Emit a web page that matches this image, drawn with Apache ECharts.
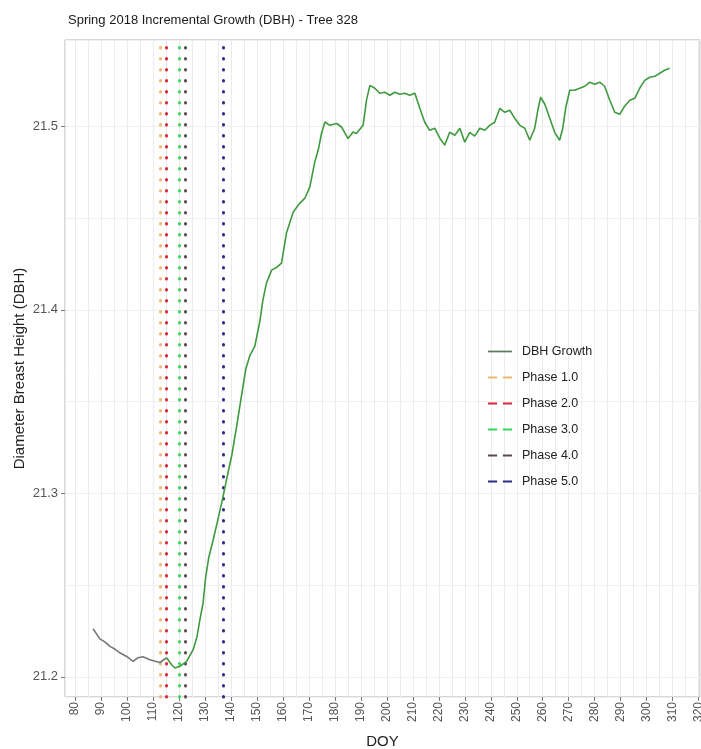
<!DOCTYPE html>
<html>
<head>
<meta charset="utf-8">
<script src="https://cdn.jsdelivr.net/npm/echarts@6/dist/echarts.min.js"></script>
<style>
html,body{margin:0;padding:0;background:#fff;}
#chart{width:701px;height:749px;}
</style>
</head>
<body>
<div id="chart"></div>
<script>
// ---- data ----
const doy = [87.0, 89.6, 91.5, 93.5, 95.5, 97.3, 99.9, 102.4, 104.3, 106.2, 108.8, 112.7, 115.3, 117.2, 118.5, 120.4, 123.0, 125.5, 127.0, 128.1, 129.3, 130.3, 131.5, 133.1, 135.0, 136.9, 138.5, 140.4, 142.3, 144.2, 145.8, 147.3, 149.2, 151.2, 152.3, 153.7, 155.7, 157.5, 159.5, 161.4, 164.0, 166.5, 168.5, 170.4, 172.3, 173.6, 174.9, 176.2, 178.1, 180.7, 182.6, 185.1, 187.0, 188.3, 190.9, 192.2, 193.5, 195.4, 197.3, 199.2, 201.2, 203.1, 205.0, 206.9, 208.8, 210.8, 212.7, 214.6, 216.5, 218.5, 220.4, 222.3, 224.2, 226.2, 228.1, 230.0, 231.9, 233.8, 235.8, 237.7, 239.6, 241.5, 243.5, 245.4, 247.3, 249.2, 251.2, 253.1, 255.0, 256.9, 258.1, 259.2, 260.8, 262.7, 264.6, 266.5, 267.7, 268.8, 270.4, 272.3, 274.2, 276.2, 278.1, 280.0, 281.9, 283.8, 285.8, 287.7, 289.6, 291.5, 293.5, 295.4, 297.3, 299.2, 301.2, 303.1, 305.0, 306.9, 308.8];
const dbh = [21.2262, 21.2207, 21.2190, 21.2166, 21.2150, 21.2131, 21.2111, 21.2084, 21.2104, 21.2109, 21.2093, 21.2078, 21.2104, 21.2066, 21.2048, 21.2057, 21.2084, 21.2148, 21.2220, 21.2311, 21.2400, 21.2540, 21.2650, 21.2740, 21.2855, 21.2975, 21.3084, 21.3210, 21.3370, 21.3540, 21.3680, 21.3750, 21.3800, 21.3940, 21.4050, 21.4145, 21.4216, 21.4230, 21.4254, 21.4418, 21.4533, 21.4580, 21.4608, 21.4670, 21.4806, 21.4869, 21.4962, 21.5023, 21.5005, 21.5015, 21.4996, 21.4933, 21.4969, 21.4960, 21.5005, 21.5142, 21.5223, 21.5207, 21.5180, 21.5185, 21.5169, 21.5185, 21.5174, 21.5180, 21.5169, 21.5180, 21.5098, 21.5022, 21.4978, 21.4989, 21.4935, 21.4897, 21.4967, 21.4951, 21.4989, 21.4913, 21.4967, 21.4946, 21.4989, 21.4978, 21.5005, 21.5022, 21.5098, 21.5076, 21.5087, 21.5044, 21.5005, 21.4989, 21.4924, 21.4989, 21.5087, 21.5158, 21.5120, 21.5044, 21.4967, 21.4924, 21.4989, 21.5098, 21.5196, 21.5196, 21.5207, 21.5218, 21.5240, 21.5229, 21.5240, 21.5218, 21.5142, 21.5076, 21.5065, 21.5109, 21.5142, 21.5152, 21.5207, 21.5250, 21.5267, 21.5272, 21.5289, 21.5305, 21.5316];
const phaseNames = ['Phase 1.0', 'Phase 2.0', 'Phase 3.0', 'Phase 4.0', 'Phase 5.0'];
const phaseDoy = [113, 115, 120, 122.5, 137];
const phaseColors = ['#f0b96e', '#d8283c', '#38d65a', '#5b4b4b', '#2b2b8c'];
const seriesName = 'DBH Growth';
const titleText = 'Spring 2018 Incremental Growth (DBH) - Tree 328';
const xName = 'DOY';
const yName = 'Diameter Breast Height (DBH)';

const FONT = '"Liberation Sans", Arial, sans-serif';
const chart = echarts.init(document.getElementById('chart'), null, {renderer: 'canvas'});

// split the growth curve at the first phase line (grey before, green after)
const pairs = doy.map((d, i) => [d, dbh[i]]);
const cut = doy.findIndex(d => d > phaseDoy[0]);
const before = pairs.slice(0, cut + 1);
const after = pairs.slice(cut);

const SOLID = 'path://M0,0h22v1.6h-22z';
const DASH = 'path://M0,0h8v1.6h-8z M13,0h8v1.6h-8z';

const series = [{
  name: seriesName, type: 'line', data: before,
  showSymbol: false, symbol: 'none', color: '#6e6e6e',
  lineStyle: {width: 1.6, color: '#777777'}, z: 5
}, {
  name: seriesName, type: 'line', data: after,
  showSymbol: false, symbol: 'none', color: '#6e6e6e',
  lineStyle: {width: 1.6, color: '#3f9a3f'}, z: 5
}];
phaseNames.forEach((n, i) => {
  series.push({
    name: n, type: 'line', data: [], symbol: 'none',
    color: phaseColors[i],
    lineStyle: {color: phaseColors[i], type: [6, 5], width: 1.5},
    markLine: {
      silent: true, symbol: 'none', label: {show: false},
      lineStyle: {color: phaseColors[i], type: [0.5, 10.5], width: 3, cap: 'round'},
      data: [{xAxis: phaseDoy[i]}]
    },
    z: 3
  });
});

chart.setOption({
  animation: false,
  backgroundColor: '#fff',
  title: {
    text: titleText, left: 63, top: 9,
    textStyle: {fontFamily: FONT, fontSize: 13, fontWeight: 'normal', color: '#1a1a1a'}
  },
  grid: {left: 65, right: 1, top: 40, bottom: 52, show: true, borderColor: '#b0b0b0', borderWidth: 1,
         backgroundColor: '#fff', containLabel: false, outerBoundsMode: 'none'},
  legend: {
    orient: 'vertical', left: 483, top: 340,
    itemWidth: 24, itemHeight: 14, itemGap: 13,
    textStyle: {fontFamily: FONT, fontSize: 12.5, color: '#222', padding: [0, 0, 0, 5]},
    data: [{name: seriesName, icon: SOLID, itemStyle: {color: '#5c7a5c'}}].concat(
      phaseNames.map((n, i) => ({name: n, icon: DASH, itemStyle: {color: phaseColors[i]}})))
  },
  xAxis: [{
    type: 'value', min: 76.2, max: 320.5, splitNumber: 24,
    name: xName, nameLocation: 'middle', nameGap: 37,
    nameTextStyle: {fontFamily: FONT, fontSize: 15, color: '#222'},
    axisLine: {show: false},
    axisTick: {show: true, length: 4, lineStyle: {color: '#777'}},
    axisLabel: {
      rotate: 90, fontFamily: FONT, fontSize: 12, color: '#555', margin: 5,
      showMinLabel: false, showMaxLabel: false,
      formatter: v => (Math.abs(v / 10 - Math.round(v / 10)) < 1e-6 ? String(Math.round(v)) : '')
    },
    splitLine: {show: true, lineStyle: {color: '#e2e2e2', width: 1}}
  }, {
    type: 'value', min: 76.2, max: 320.5, splitNumber: 48, position: 'bottom',
    axisLine: {show: false}, axisTick: {show: false}, axisLabel: {show: false},
    splitLine: {show: true, lineStyle: {color: '#ececec', width: 1}}
  }],
  yAxis: [{
    type: 'value', min: 21.189, max: 21.547, splitNumber: 4,
    name: yName, nameLocation: 'middle', nameGap: 38, nameMoveOverlap: false,
    nameTextStyle: {fontFamily: FONT, fontSize: 15, color: '#222'},
    axisLine: {show: false},
    axisTick: {show: true, length: 4, lineStyle: {color: '#777'}},
    axisLabel: {
      fontFamily: FONT, fontSize: 13, color: '#555', margin: 7,
      showMinLabel: false, showMaxLabel: false,
      formatter: v => (Math.abs(v * 10 - Math.round(v * 10)) < 1e-6 ? v.toFixed(1) : '')
    },
    splitLine: {show: true, lineStyle: {color: '#e2e2e2', width: 1}}
  }, {
    type: 'value', min: 21.189, max: 21.547, splitNumber: 8, position: 'left',
    axisLine: {show: false}, axisTick: {show: false}, axisLabel: {show: false},
    splitLine: {show: true, lineStyle: {color: '#f0f0f0', width: 1}}
  }],
  series: series
});
</script>
</body>
</html>
